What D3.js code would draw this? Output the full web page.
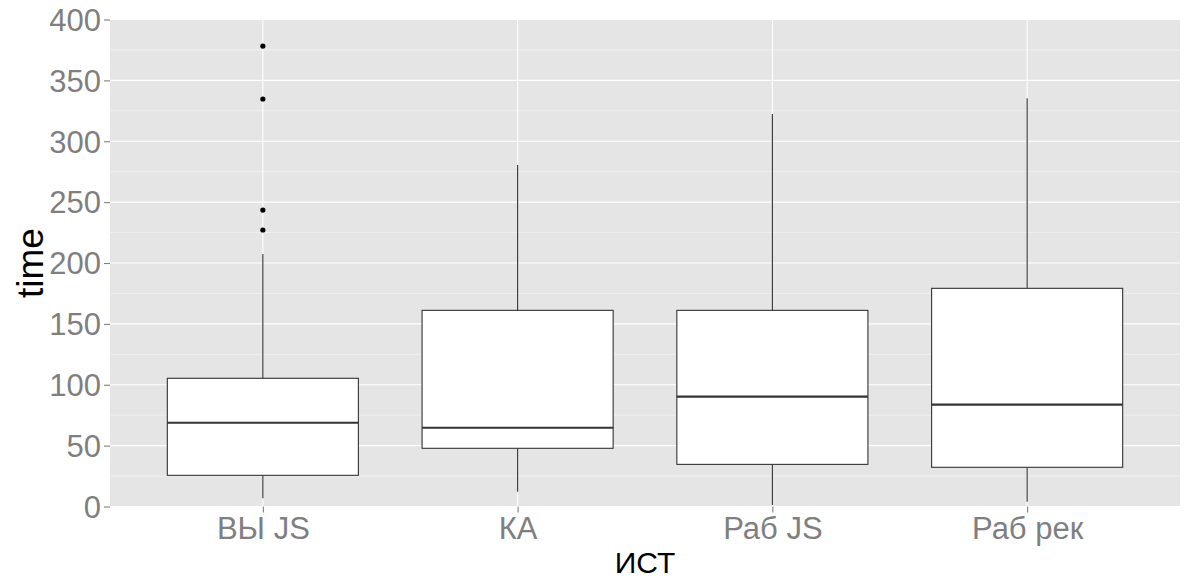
<!DOCTYPE html>
<html>
<head>
<meta charset="utf-8">
<script src="https://cdn.jsdelivr.net/npm/d3@7"></script>
<style>
body { margin: 0; background: #fff; }
svg text { font-family: "Liberation Sans", Arial, sans-serif; }
</style>
</head>
<body>
<svg id="chart" width="1200" height="587"></svg>
<script>
const categories = ["ВЫ JS", "КА", "Раб JS", "Раб рек"];
const lowerWhisker = [6.7, 12.2, 1.2, 4];
const q1 = [25.6, 47.8, 34.6, 32.2];
const median = [68.8, 64.7, 90.2, 83.6];
const q3 = [105.3, 161.1, 161.1, 179.2];
const upperWhisker = [207.4, 280.5, 322.4, 335.3];
const outlierCat = ["ВЫ JS", "ВЫ JS", "ВЫ JS", "ВЫ JS"];
const outlierVal = [378.2, 334.7, 243.5, 227.1];
const yTicks = [0, 50, 100, 150, 200, 250, 300, 350, 400];
const yMinor = [25, 75, 125, 175, 225, 275, 325, 375];

const svg = d3.select("#chart");
const pL = 110, pR = 1180, pT = 19.5, pB = 506.5;

const x = d3.scalePoint().domain(categories).range([pL, pR]).padding(0.6);
const y = d3.scaleLinear().domain([0, 400]).range([pB, pT]);
const boxW = x.step() * 0.75;

// panel
svg.append("rect").attr("x", pL).attr("y", pT).attr("width", pR - pL).attr("height", pB - pT).attr("fill", "#e5e5e5");

// minor grid
svg.append("g").selectAll("line").data(yMinor).join("line")
  .attr("x1", pL).attr("x2", pR)
  .attr("y1", d => y(d)).attr("y2", d => y(d))
  .attr("stroke", "#f2f2f2").attr("stroke-width", 0.8);
// major grid
svg.append("g").selectAll("line").data(yTicks).join("line")
  .attr("x1", pL).attr("x2", pR)
  .attr("y1", d => y(d)).attr("y2", d => y(d))
  .attr("stroke", "#ffffff").attr("stroke-width", 1.1);
svg.append("g").selectAll("line").data(categories).join("line")
  .attr("x1", d => x(d)).attr("x2", d => x(d))
  .attr("y1", pT).attr("y2", pB)
  .attr("stroke", "#ffffff").attr("stroke-width", 1.1);

// axes
const yAxis = svg.append("g").attr("transform", `translate(${pL},0)`)
  .call(d3.axisLeft(y).tickValues(yTicks).tickSize(6).tickPadding(3));
yAxis.select(".domain").remove();
yAxis.selectAll("line").attr("stroke", "#7f7f7f").attr("stroke-width", 1.1);
yAxis.selectAll("text").attr("fill", "#7f7f7f").style("font-size", "31px").attr("dy", "0.35em");

const xAxis = svg.append("g").attr("transform", `translate(0,${pB})`)
  .call(d3.axisBottom(x).tickSize(6).tickPadding(4));
xAxis.select(".domain").remove();
xAxis.selectAll("line").attr("stroke", "#7f7f7f").attr("stroke-width", 1.1);
xAxis.selectAll("text").attr("fill", "#7f7f7f").style("font-size", "31px").attr("dy", "0.71em");

// boxes
const data = categories.map((c, i) => ({c, lw: lowerWhisker[i], q1: q1[i], med: median[i], q3: q3[i], uw: upperWhisker[i]}));
const g = svg.append("g");
g.selectAll(".wu").data(data).join("line")
  .attr("x1", d => x(d.c)).attr("x2", d => x(d.c))
  .attr("y1", d => y(d.q3)).attr("y2", d => y(d.uw))
  .attr("stroke", "#333333").attr("stroke-width", 1.1);
g.selectAll(".wl").data(data).join("line")
  .attr("x1", d => x(d.c)).attr("x2", d => x(d.c))
  .attr("y1", d => y(d.q1)).attr("y2", d => y(d.lw))
  .attr("stroke", "#333333").attr("stroke-width", 1.1);
g.selectAll("rect").data(data).join("rect")
  .attr("x", d => x(d.c) - boxW / 2).attr("width", boxW)
  .attr("y", d => y(d.q3)).attr("height", d => y(d.q1) - y(d.q3))
  .attr("fill", "#ffffff").attr("stroke", "#333333").attr("stroke-width", 1.1);
g.selectAll(".med").data(data).join("line")
  .attr("x1", d => x(d.c) - boxW / 2).attr("x2", d => x(d.c) + boxW / 2)
  .attr("y1", d => y(d.med)).attr("y2", d => y(d.med))
  .attr("stroke", "#333333").attr("stroke-width", 2.2);

// outliers
svg.append("g").selectAll("circle").data(outlierVal.map((v, i) => ({c: outlierCat[i], v}))).join("circle")
  .attr("cx", d => x(d.c)).attr("cy", d => y(d.v)).attr("r", 2.6).attr("fill", "#000000");

// axis titles
svg.append("text").attr("x", (pL + pR) / 2).attr("y", 573).attr("text-anchor", "middle")
  .style("font-size", "30px").attr("fill", "#000").text("ИСТ");
svg.append("text").attr("transform", `translate(43,${y(200)}) rotate(-90)`).attr("text-anchor", "middle")
  .style("font-size", "37px").attr("fill", "#000").text("time");
</script>
</body>
</html>
